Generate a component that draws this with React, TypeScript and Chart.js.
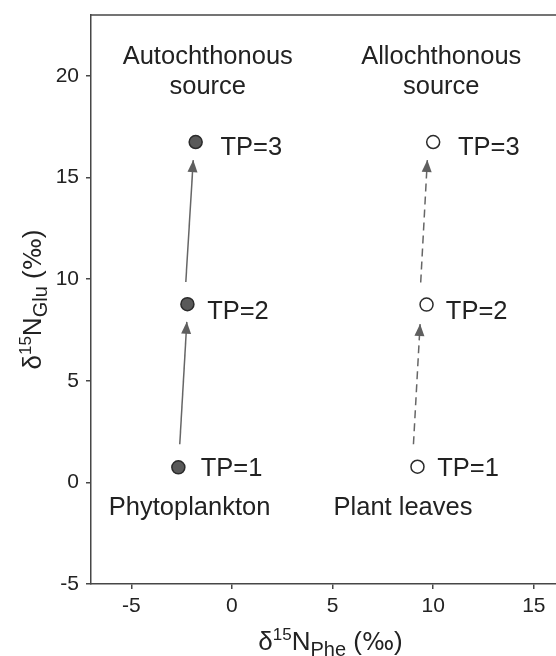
import React, { useEffect, useRef } from 'react';
import { Chart, registerables } from 'chart.js';
Chart.register(...registerables);

// ---- data (axis units, ‰) ----
const X_TICKS = [-5, 0, 5, 10, 15];
const Y_TICKS = [-5, 0, 5, 10, 15, 20];
const X_MIN = -7;
const X_MAX = 16.4;
const Y_MIN = -5;
const Y_MAX = 23;

const TP_LABELS = ['TP=1', 'TP=2', 'TP=3'];

const AUTO_X = [-2.66, -2.21, -1.8];
const AUTO_Y = [0.74, 8.77, 16.75];
const ALLO_X = [9.22, 9.67, 10.0];
const ALLO_Y = [0.77, 8.75, 16.75];

const AUTO_ARROW_FROM_X = [-2.59, -2.29];
const AUTO_ARROW_FROM_Y = [1.88, 9.86];
const AUTO_ARROW_TO_X = [-2.24, -1.92];
const AUTO_ARROW_TO_Y = [7.9, 15.86];

const ALLO_ARROW_FROM_X = [9.02, 9.38];
const ALLO_ARROW_FROM_Y = [1.88, 9.84];
const ALLO_ARROW_TO_X = [9.35, 9.71];
const ALLO_ARROW_TO_Y = [7.79, 15.86];

// annotation anchors (axis units)
const AUTO_TP_LABEL_X = [-1.55, -1.23, -0.57];
const ALLO_TP_LABEL_X = [10.2, 10.63, 11.23];
const TP_LABEL_Y = [0.31, 8.03, 16.13];

const REGION_LINES = [['Autochthonous', 'source'], ['Allochthonous', 'source']];
const REGION_X = [-1.2, 10.4];
const REGION_LINE_Y = [20.6, 19.13];

const SOURCE_NAMES = ['Phytoplankton', 'Plant leaves'];
const SOURCE_X = [-2.1, 8.5];
const SOURCE_Y = -1.6;

const FONT = '"Liberation Sans", Arial, Helvetica, sans-serif';
const SYM_FONT = '"DejaVu Sans", sans-serif';
const TEXT = '#222222';
const AXIS = '#474747';

type Part = { t: string; size: number; dy: number; family?: string };

function fontOf(p: Part) {
  return `${p.size}px ${p.family || FONT}`;
}
function richWidth(ctx: CanvasRenderingContext2D, parts: Part[]) {
  let w = 0;
  for (const p of parts) {
    ctx.font = fontOf(p);
    w += ctx.measureText(p.t).width;
  }
  return w;
}
function drawRich(ctx: CanvasRenderingContext2D, parts: Part[], cx: number, by: number) {
  const w = richWidth(ctx, parts);
  let x = cx - w / 2;
  ctx.textAlign = 'left';
  ctx.textBaseline = 'alphabetic';
  for (const p of parts) {
    ctx.font = fontOf(p);
    ctx.fillText(p.t, x, by + p.dy);
    x += ctx.measureText(p.t).width;
  }
}

const X_TITLE: Part[] = [
  { t: 'δ', size: 26, dy: 0 },
  { t: '15', size: 17, dy: -10 },
  { t: 'N', size: 26, dy: 0 },
  { t: 'Phe', size: 20, dy: 6 },
  { t: ' (', size: 26, dy: 0 },
  { t: '‰', size: 24, dy: 0, family: SYM_FONT },
  { t: ')', size: 26, dy: 0 },
];
const Y_TITLE: Part[] = [
  { t: 'δ', size: 26, dy: 0 },
  { t: '15', size: 17, dy: -10 },
  { t: 'N', size: 26, dy: 0 },
  { t: 'Glu', size: 20, dy: 6 },
  { t: ' (', size: 26, dy: 0 },
  { t: '‰', size: 24, dy: 0, family: SYM_FONT },
  { t: ')', size: 26, dy: 0 },
];

const decorPlugin = {
  id: 'decor',
  afterDatasetsDraw(chart: any) {
    const ctx: CanvasRenderingContext2D = chart.ctx;
    const xs = chart.scales.x;
    const ys = chart.scales.y;
    const a = chart.chartArea;
    ctx.save();
    // frame (top / right)
    ctx.strokeStyle = AXIS;
    ctx.lineWidth = 1.5;
    ctx.beginPath();
    ctx.moveTo(a.left, a.top);
    ctx.lineTo(a.right, a.top);
    ctx.lineTo(a.right, a.bottom);
    ctx.stroke();

    // arrow heads
    const heads = (fx: number[], fy: number[], tx: number[], ty: number[]) => {
      for (let i = 0; i < fx.length; i++) {
        const x0 = xs.getPixelForValue(fx[i]);
        const y0 = ys.getPixelForValue(fy[i]);
        const x1 = xs.getPixelForValue(tx[i]);
        const y1 = ys.getPixelForValue(ty[i]);
        const ang = Math.atan2(y1 - y0, x1 - x0);
        const L = 12;
        const H = 5;
        const bx = x1 - L * Math.cos(ang);
        const by = y1 - L * Math.sin(ang);
        ctx.fillStyle = '#5f5f5f';
        ctx.beginPath();
        ctx.moveTo(x1, y1);
        ctx.lineTo(bx + H * Math.sin(ang), by - H * Math.cos(ang));
        ctx.lineTo(bx - H * Math.sin(ang), by + H * Math.cos(ang));
        ctx.closePath();
        ctx.fill();
      }
    };
    heads(AUTO_ARROW_FROM_X, AUTO_ARROW_FROM_Y, AUTO_ARROW_TO_X, AUTO_ARROW_TO_Y);
    heads(ALLO_ARROW_FROM_X, ALLO_ARROW_FROM_Y, ALLO_ARROW_TO_X, ALLO_ARROW_TO_Y);

    // text annotations
    ctx.fillStyle = TEXT;
    ctx.textBaseline = 'alphabetic';
    ctx.font = `25.5px ${FONT}`;
    ctx.textAlign = 'left';
    TP_LABELS.forEach((t, i) => {
      ctx.fillText(t, xs.getPixelForValue(AUTO_TP_LABEL_X[i]), ys.getPixelForValue(TP_LABEL_Y[i]));
      ctx.fillText(t, xs.getPixelForValue(ALLO_TP_LABEL_X[i]), ys.getPixelForValue(TP_LABEL_Y[i]));
    });
    ctx.textAlign = 'center';
    REGION_LINES.forEach((lines, i) => {
      lines.forEach((t, j) => {
        ctx.fillText(t, xs.getPixelForValue(REGION_X[i]), ys.getPixelForValue(REGION_LINE_Y[j]));
      });
    });
    SOURCE_NAMES.forEach((t, i) => {
      ctx.fillText(t, xs.getPixelForValue(SOURCE_X[i]), ys.getPixelForValue(SOURCE_Y));
    });

    // axis titles
    const cx = (a.left + a.right) / 2 + 4;
    drawRich(ctx, X_TITLE, cx, 650);
    const cy = (a.top + a.bottom) / 2;
    ctx.translate(41, cy);
    ctx.rotate(-Math.PI / 2);
    drawRich(ctx, Y_TITLE, 0, 0);
    ctx.restore();
  },
};

function pts(xs: number[], ys: number[]) {
  return xs.map((x, i) => ({ x, y: ys[i] }));
}

function arrowSets(fx: number[], fy: number[], tx: number[], ty: number[], dashed: boolean) {
  return fx.map((_, i) => ({
    data: [
      { x: fx[i], y: fy[i] },
      { x: tx[i], y: ty[i] },
    ],
    showLine: true,
    pointRadius: 0,
    borderColor: '#666666',
    borderWidth: 1.5,
    borderDash: dashed ? [8, 5] : [],
    fill: false,
  }));
}

export default function App() {
  const ref = useRef<HTMLCanvasElement>(null);
  useEffect(() => {
    const fixX = (s: any) => {
      s.height = 72;
      s.paddingLeft = 0;
      s.paddingRight = 0;
      s.paddingTop = 0;
      s.paddingBottom = 0;
    };
    const fixY = (s: any) => {
      s.width = 91;
      s.paddingLeft = 0;
      s.paddingRight = 0;
      s.paddingTop = 0;
      s.paddingBottom = 0;
    };
    const chart = new Chart(ref.current!, {
      type: 'scatter',
      data: {
        datasets: [
          ...arrowSets(AUTO_ARROW_FROM_X, AUTO_ARROW_FROM_Y, AUTO_ARROW_TO_X, AUTO_ARROW_TO_Y, false),
          ...arrowSets(ALLO_ARROW_FROM_X, ALLO_ARROW_FROM_Y, ALLO_ARROW_TO_X, ALLO_ARROW_TO_Y, true),
          {
            data: pts(AUTO_X, AUTO_Y),
            pointRadius: 6.5,
            pointBackgroundColor: '#595959',
            pointBorderColor: '#2b2b2b',
            pointBorderWidth: 1.5,
          },
          {
            data: pts(ALLO_X, ALLO_Y),
            pointRadius: 6.5,
            pointBackgroundColor: '#ffffff',
            pointBorderColor: '#2b2b2b',
            pointBorderWidth: 1.5,
          },
        ] as any,
      },
      options: {
        responsive: false,
        animation: false,
        devicePixelRatio: 1,
        layout: { padding: { top: 15, right: 3, left: 0, bottom: 0 } },
        plugins: { legend: { display: false }, tooltip: { enabled: false } },
        events: [],
        scales: {
          x: {
            type: 'linear',
            min: X_MIN,
            max: X_MAX,
            afterBuildTicks: (s: any) => {
              s.ticks = X_TICKS.map((v) => ({ value: v }));
            },
            afterFit: fixX,
            grid: { drawOnChartArea: false, drawTicks: true, tickLength: 5, tickColor: AXIS, lineWidth: 1.5 },
            border: { display: true, color: AXIS, width: 1.5 },
            ticks: { font: { family: FONT, size: 21 }, color: TEXT, padding: 5, maxRotation: 0, autoSkip: false },
          },
          y: {
            type: 'linear',
            min: Y_MIN,
            max: Y_MAX,
            afterBuildTicks: (s: any) => {
              s.ticks = Y_TICKS.map((v) => ({ value: v }));
            },
            afterFit: fixY,
            grid: { drawOnChartArea: false, drawTicks: true, tickLength: 5, tickColor: AXIS, lineWidth: 1.5 },
            border: { display: true, color: AXIS, width: 1.5 },
            ticks: { font: { family: FONT, size: 21 }, color: TEXT, padding: 7, autoSkip: false },
          },
        },
      } as any,
      plugins: [decorPlugin],
    });
    return () => chart.destroy();
  }, []);
  return (
    <div
      style={{
        position: 'fixed',
        left: 0,
        top: 0,
        width: 556,
        height: 656,
        overflow: 'hidden',
        background: '#ffffff',
      }}
    >
      <canvas ref={ref} width={570} height={656} style={{ display: 'block', width: 570, height: 656 }} />
    </div>
  );
}
